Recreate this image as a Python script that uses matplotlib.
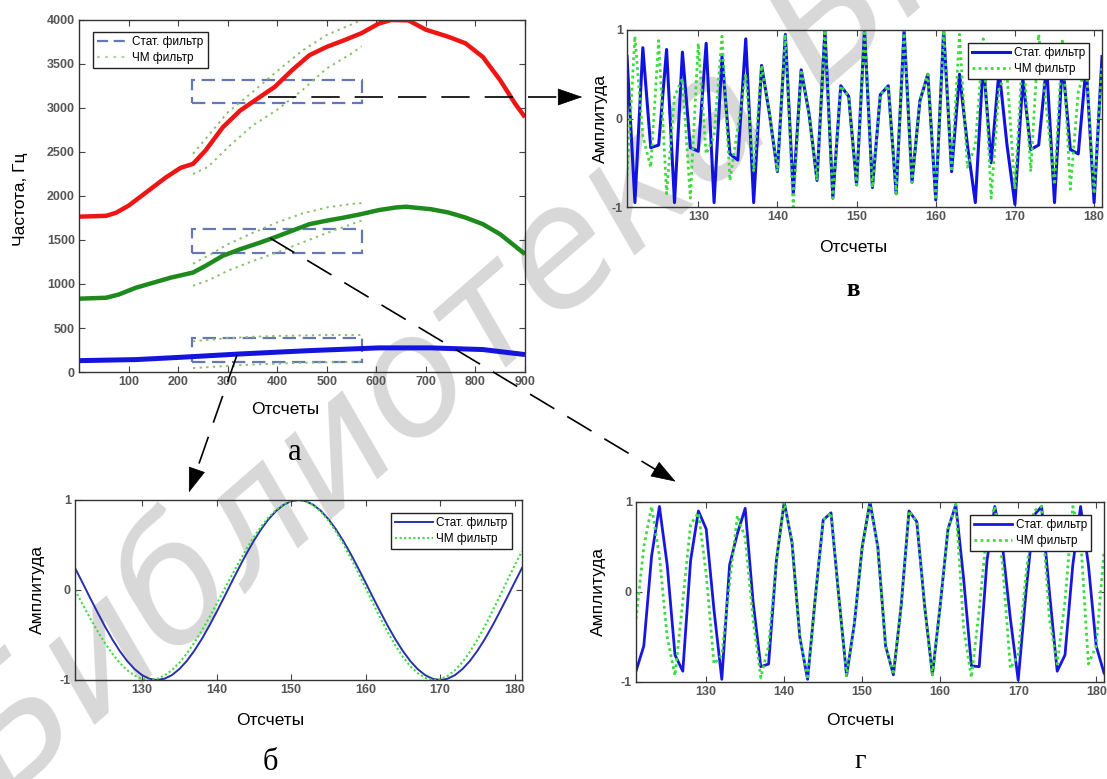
import math
import matplotlib
matplotlib.use('Agg')
import matplotlib.pyplot as plt
from matplotlib.lines import Line2D
from matplotlib.patches import Rectangle, FancyArrowPatch

plt.rcParams['font.family'] = ['Liberation Sans', 'DejaVu Sans']

# ---------------- data: panel а (formant tracks) ----------------
red_x = [0, 55, 75, 100, 140, 175, 205, 230, 255, 290, 325, 365, 395, 430, 465, 500,
         535, 570, 605, 630, 665, 700, 745, 780, 815, 850, 880, 900]
red_y = [1765, 1775, 1810, 1890, 2060, 2210, 2320, 2365, 2515, 2780, 2970, 3125, 3240, 3430,
         3600, 3695, 3770, 3850, 3960, 4000, 3995, 3890, 3810, 3735, 3580, 3315, 3050, 2895]
green_x = [0, 55, 80, 115, 150, 185, 230, 255, 290, 325, 365, 395, 430, 465, 500, 535, 570,
           605, 640, 660, 710, 745, 780, 815, 850, 900]
green_y = [833, 844, 880, 958, 1015, 1072, 1130, 1205, 1320, 1395, 1470, 1530, 1605, 1680,
           1720, 1755, 1795, 1840, 1870, 1878, 1850, 1813, 1755, 1680, 1565, 1340]
blue_x = [0, 115, 205, 325, 465, 605, 710, 815, 900]
blue_y = [129, 141, 167, 205, 243, 274, 274, 255, 198]

# dotted ЧМ-filter bands (x positions shared)
band_x = [230, 260, 300, 350, 400, 450, 500, 550, 570]
red_up = [2480, 2680, 2950, 3180, 3420, 3650, 3830, 3950, 4000]
red_lo = [2250, 2330, 2550, 2800, 2980, 3200, 3450, 3620, 3700]
grn_up = [1230, 1320, 1450, 1580, 1700, 1800, 1870, 1910, 1920]
grn_lo = [980, 1040, 1150, 1260, 1360, 1470, 1580, 1680, 1720]
blu_up = [350, 365, 385, 400, 410, 415, 420, 420, 420]
blu_lo = [45, 55, 70, 85, 95, 105, 110, 115, 115]

# static-filter boxes: (x0, x1) and (y0, y1)
box_x = [228, 571]
box_red = [3057, 3318]
box_grn = [1352, 1625]
box_blu = [114, 386]

a_xticks = [100, 200, 300, 400, 500, 600, 700, 800, 900]
a_yticks = [0, 500, 1000, 1500, 2000, 2500, 3000, 3500, 4000]

# ---------------- data: zoomed panels (samples 121..181) ----------------
samples = list(range(121, 182))

b_stat = [0.245, 0.083, -0.083, -0.245, -0.402, -0.547, -0.677, -0.789, -0.879, -0.946,
          -0.986, -1.0, -0.986, -0.946, -0.879, -0.789, -0.677, -0.547, -0.402, -0.245,
          -0.083, 0.083, 0.245, 0.402, 0.547, 0.677, 0.789, 0.879, 0.946, 0.986,
          1.0,
          0.986, 0.946, 0.879, 0.789, 0.677, 0.547, 0.402, 0.245, 0.083, -0.083,
          -0.245, -0.402, -0.547, -0.677, -0.789, -0.879, -0.946, -0.986, -1.0, -0.986,
          -0.946, -0.879, -0.789, -0.677, -0.547, -0.402, -0.245, -0.083, 0.083, 0.245]
b_fm = [0.0, -0.156, -0.309, -0.454, -0.588, -0.707, -0.809, -0.891, -0.951, -0.988,
        -1.0, -0.988, -0.951, -0.891, -0.809, -0.707, -0.588, -0.454, -0.309, -0.156,
        0.0, 0.156, 0.309, 0.454, 0.588, 0.707, 0.809, 0.891, 0.951, 0.988,
        1.0,
        0.985, 0.941, 0.870, 0.773, 0.653, 0.514, 0.359, 0.194, 0.024, -0.148,
        -0.315, -0.473, -0.616, -0.742, -0.846, -0.925, -0.976, -0.999, -0.992, -0.956,
        -0.892, -0.802, -0.688, -0.553, -0.403, -0.240, -0.071, 0.101, 0.270, 0.431]

v_stat = [0.70, -0.95, 0.80, -0.33, -0.30, 0.78, -0.95, 0.75, -0.33, -0.37,
          0.85, -0.95, 0.70, -0.40, -0.47, 0.90, -0.95, 0.60, 0.05, -0.60,
          0.95, -0.85, 0.55, 0.05, -0.70, 1.00, -0.90, 0.37, 0.25, -0.75,
          1.00, -0.78, 0.27, 0.37, -0.85, 1.00, -0.72, 0.20, 0.50, -0.92,
          1.00, -0.60, 0.50, -0.30, -0.95, 0.65, -0.50, 0.55, -0.30, -0.97,
          0.45, -0.35, -0.30, 0.60, -0.95, 0.65, -0.35, -0.40, 0.60, -0.95, 0.70]
v_fm = [-0.65, 0.93, -0.20, -0.55, 0.88, -0.85, 0.25, 0.45, -0.90, 0.85,
        -0.40, -0.20, 0.93, -0.70, -0.10, 0.50, -0.60, 0.60, 0.05, -0.60,
        0.95, -1.00, 0.55, 0.05, -0.70, 1.00, -0.90, 0.37, 0.25, -0.75,
        1.00, -0.78, 0.27, 0.37, -0.85, 1.00, -0.72, 0.20, 0.50, -0.92,
        1.00, -0.60, 0.95, -0.55, -0.30, 0.90, -0.90, 0.35, 0.50, -0.80,
        0.80, -0.60, 0.95, 0.10, -0.75, 0.90, -0.80, 0.30, 0.60, -0.85, 0.60]

g_stat = [-0.88, -0.60, 0.40, 0.95, 0.30, -0.70, -0.88, 0.35, 0.90, 0.70,
          -0.20, -0.97, 0.30, 0.65, 0.93, -0.10, -0.83, -0.80, 0.35, 1.00,
          0.55, -0.50, -0.97, -0.05, 0.80, 0.88, -0.05, -0.93, -0.35, 0.50,
          1.00, 0.50, -0.60, -0.92, -0.15, 0.90, 0.78, -0.15, -0.92, -0.15,
          0.70, 0.97, 0.15, -0.82, -0.83, 0.35, 0.95, 0.50, -0.30, -0.98,
          0.00, 0.85, 0.95, 0.00, -0.88, -0.70, 0.30, 0.95, 0.30, -0.60, -0.90]
g_fm = [-0.30, 0.50, 0.95, 0.40, -0.50, -0.93, -0.10, 0.75, 0.88, 0.20,
        -0.80, -0.70, 0.10, 0.85, 0.60, -0.30, -0.95, -0.60, 0.35, 1.00,
        0.55, -0.50, -0.97, -0.05, 0.80, 0.88, -0.05, -0.93, -0.35, 0.50,
        1.00, 0.50, -0.60, -0.92, -0.15, 0.90, 0.78, -0.15, -0.92, -0.15,
        0.70, 0.97, -0.40, -0.95, -0.20, 0.70, 0.95, 0.30, -0.85, -0.70,
        0.20, 0.90, 0.95, -0.30, -0.80, -0.10, 0.95, 0.60, -0.80, -0.60, 0.45]

z_xticks = [130, 140, 150, 160, 170, 180]
z_yticks = [-1, 0, 1]

# ---------------- figure ----------------
W, H = 1107, 779
fig = plt.figure(figsize=(W / 100, H / 100), dpi=100)
fig.patch.set_facecolor('white')


def px_axes(l, t, r, b):
    ax = fig.add_axes([l / W, 1 - b / H, (r - l) / W, (b - t) / H])
    ax.set_facecolor('none')
    return ax


TICKC = '#555555'


def style(ax, xt, yt):
    ax.set_xticks(xt, labels=[str(v) for v in xt], fontweight='bold')
    ax.set_yticks(yt, labels=[str(v) for v in yt], fontweight='bold')
    ax.tick_params(direction='in', top=True, right=True, length=4, width=0.8,
                   labelsize=9, labelcolor=TICKC, color='#444444', pad=3)
    for s in ax.spines.values():
        s.set_color('#333333')
        s.set_linewidth(1.0)


LBL = 12.5

# ---- watermark (behind the transparent axes) ----
fig.text(0.005, -0.03, 'Библиотека БГУИР', rotation=41, rotation_mode='anchor',
         fontsize=118, color='#d8d8d8', fontstyle='italic', fontweight='normal',
         family='DejaVu Sans', ha='left', va='baseline', zorder=-5)

# ---- panel а ----
axa = px_axes(79, 20, 525, 372)
axa.plot(red_x, red_y, color='#ee1515', lw=3.2, solid_capstyle='butt')
axa.plot(green_x, green_y, color='#1e8a1e', lw=3.2, solid_capstyle='butt')
axa.plot(blue_x, blue_y, color='#1414dd', lw=3.6, solid_capstyle='butt')
dotc = '#8cbf70'
for up, lo in ((red_up, red_lo), (grn_up, grn_lo), (blu_up, blu_lo)):
    axa.plot(band_x, up, color=dotc, lw=1.4, linestyle=(0, (1.2, 2.2)))
    axa.plot(band_x, lo, color=dotc, lw=1.4, linestyle=(0, (1.2, 2.2)))
boxc = '#6678b4'
for yy in (box_red, box_grn, box_blu):
    axa.add_patch(Rectangle((box_x[0], yy[0]), box_x[1] - box_x[0], yy[1] - yy[0],
                            fill=False, edgecolor=boxc, lw=1.6, linestyle=(0, (6, 3))))
axa.set_xlim(0, 900)
axa.set_ylim(0, 4000)
style(axa, a_xticks, a_yticks)
axa.set_xlabel('Отсчеты', fontsize=LBL)
axa.xaxis.set_label_coords((285 - 79) / 446, (372 - 402) / 352)
axa.set_ylabel('Частота, Гц', fontsize=LBL)
axa.yaxis.set_label_coords((28 - 79) / 446, 0.49)
ha = [Line2D([], [], color=boxc, lw=1.6, linestyle=(0, (5, 2.5))),
      Line2D([], [], color='#b6cf9c', lw=1.6, linestyle=(0, (1.2, 2.5)))]
leg = axa.legend(ha, ['Стат. фильтр', 'ЧМ фильтр'], loc='upper left',
                 bbox_to_anchor=(0.018, 0.983), fontsize=8.5, fancybox=False,
                 edgecolor='#222222', framealpha=1, handlelength=2.4,
                 borderpad=0.35, labelspacing=0.35, handletextpad=0.6)
leg.get_frame().set_linewidth(1.0)


def zoom_panel(box, stat, fm, stat_c, stat_lw, fm_lw, xl, yl, legbox):
    ax = px_axes(*box)
    ax.plot(samples, stat, color=stat_c, lw=stat_lw, label='Стат. фильтр')
    ax.plot(samples, fm, color='#3ddc3d', lw=fm_lw, linestyle=(0, (1, 1.2)),
            label='ЧМ фильтр')
    ax.set_xlim(121, 181)
    ax.set_ylim(-1, 1)
    style(ax, z_xticks, z_yticks)
    ax.set_xlabel('Отсчеты', fontsize=LBL)
    ax.xaxis.set_label_coords(*xl)
    ax.set_ylabel('Амплитуда', fontsize=LBL)
    ax.yaxis.set_label_coords(*yl)
    lg = ax.legend(loc='upper right', bbox_to_anchor=legbox, fontsize=8.5,
                   fancybox=False, edgecolor='#222222', framealpha=1,
                   handlelength=3.2, borderpad=0.35, labelspacing=0.35,
                   handletextpad=0.3)
    lg.get_frame().set_linewidth(1.0)
    return ax


# ---- panel в ----
zoom_panel((627, 30, 1102, 207), v_stat, v_fm, '#1212e0', 2.2, 2.0,
           ((853 - 627) / 475, (207 - 240) / 177), ((608 - 627) / 475, 0.5),
           (0.985, 0.96))
# ---- panel б ----
zoom_panel((75, 500, 522, 680), b_stat, b_fm, '#2830a8', 1.4, 1.5,
           ((270 - 75) / 447, (680 - 713) / 180), ((45 - 75) / 447, 0.5),
           (0.99, 0.96))
# ---- panel г ----
zoom_panel((636, 502, 1104, 682), g_stat, g_fm, '#1818dc', 2.0, 2.0,
           ((860 - 636) / 468, (682 - 713) / 180), ((606 - 636) / 468, 0.5),
           (0.985, 0.96))

# ---- panel letters ----
fig.text(295 / W, 1 - 452 / H, 'а', fontsize=22, family='Liberation Serif',
         ha='center', va='center')
fig.text(270 / W, 1 - 762 / H, 'б', fontsize=22, family='Liberation Serif',
         ha='center', va='center')
fig.text(853 / W, 1 - 290 / H, 'в', fontsize=18, family='Liberation Serif',
         fontweight='bold', ha='center', va='center')
fig.text(860 / W, 1 - 762 / H, 'г', fontsize=20, family='Liberation Serif',
         ha='center', va='center')


# ---- dashed arrows (figure pixel coordinates, y downward) ----
def dashed_arrow(x0, y0, x1, y1):
    L = math.hypot(x1 - x0, y1 - y0)
    ux, uy = (x1 - x0) / L, (y1 - y0) / L
    hl = 22
    sx, sy = x1 - ux * hl, y1 - uy * hl
    fig.add_artist(Line2D([x0 / W, sx / W], [1 - y0 / H, 1 - sy / H],
                          transform=fig.transFigure, color='black', lw=1.2,
                          linestyle=(0, (17, 9))))
    fig.add_artist(FancyArrowPatch((sx / W, 1 - sy / H), (x1 / W, 1 - y1 / H),
                                   transform=fig.transFigure,
                                   arrowstyle='-|>,head_length=0.75,head_width=0.26',
                                   mutation_scale=22, color='black', lw=0.5))


dashed_arrow(268, 97, 585, 97)
dashed_arrow(270, 238, 678, 483)
dashed_arrow(237, 355, 188, 495)

fig.savefig('out.png', dpi=100)
